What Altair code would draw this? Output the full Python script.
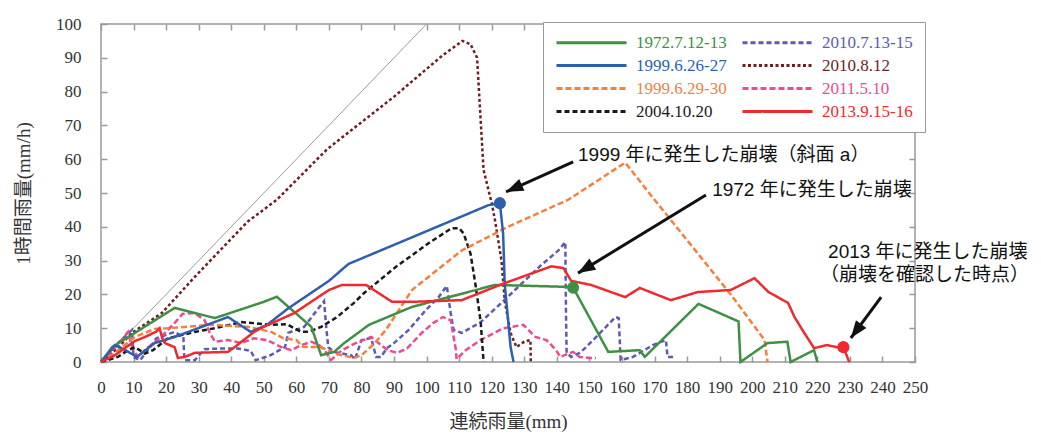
import math
import altair as alt
import pandas as pd

# ---------------- data ----------------
SERIES = ["1972.7.12-13", "1999.6.26-27", "1999.6.29-30", "2004.10.20",
          "2010.7.13-15", "2010.8.12", "2011.5.10", "2013.9.15-16"]
DRAW_ORDER = ["2010.8.12", "2010.7.13-15", "2011.5.10", "2004.10.20",
              "1999.6.29-30", "1972.7.12-13", "1999.6.26-27", "2013.9.15-16"]

G_X = [0, 3.4, 10.4, 22.6, 35, 50, 54, 64.6, 67.6, 71.6, 74.7, 82.3, 95.5, 121, 144.4, 145,
       155.8, 165.5, 167, 183.5, 195.8, 196.4, 204.7, 210.8, 211.8, 219, 220]
G_Y = [0, 4.4, 8.6, 16, 13, 17.8, 19.3, 10.4, 2, 3, 5.6, 11, 16.3, 22.8, 22.2, 22,
       3, 3.5, 1.5, 17.2, 12, 0, 5.6, 6, 0, 3.5, 0]

B_X = [0, 4.3, 7.5, 11, 16.5, 22.6, 39, 46, 51, 57.4, 65.7, 70, 76, 100, 119, 122.5, 123.5, 124, 125.8, 126.7]
B_Y = [0, 5, 3.5, 1.5, 5.6, 7.4, 13.3, 8.9, 11, 15.8, 21.2, 24, 29, 38.7, 46.4, 47, 38, 23, 4.4, 0]

O_X = [0, 4, 10.4, 16.5, 20.5, 34, 45, 52.3, 56, 60, 62, 67.6, 72, 77.7, 80, 84, 87.5, 95.5,
       110.8, 125, 143.5, 161, 170, 193.4, 203.8, 204.7]
O_Y = [0, 2.5, 7.4, 9.8, 10, 11, 10.4, 8.9, 7, 6.5, 4.5, 4.4, 2.5, 1.2, 2, 5.5, 9.5, 21.3,
       33, 40, 48, 59, 48, 20, 6.5, 0]

K_X = [0, 5.2, 8.3, 10.4, 13.5, 16, 20.5, 28.8, 35, 43, 47, 52, 57, 61.5, 64, 67.6, 72.5,
       77.7, 80.8, 90.5, 100.7, 107.7, 110, 111.4, 113.5, 115, 116.6, 117.5]
K_Y = [0, 1.5, 3.5, 4.4, 2.5, 3.5, 7, 8.9, 10, 11.8, 11.5, 11, 11.2, 8.9, 9, 10.4, 13.3,
       17.5, 20.4, 28.1, 35.2, 39.6, 39.6, 38, 32, 23, 12, 0]

P_X = [0, 5.2, 9.5, 10, 12, 14, 17, 22.6, 25.3, 25.6, 28.8, 31.8, 37, 42, 46, 47.5, 52, 56.5,
       57.5, 62.4, 66.4, 68.5, 69.2, 69.8, 71.5, 73, 76.8, 78, 80, 83, 84.5, 86, 87.8, 90,
       94.5, 99.8, 103.7, 106.2, 107.4, 108.3, 110.8, 116.5, 123, 129, 135, 140.5, 142.6,
       142.8, 143, 144.4, 147, 149, 153.3, 158, 159, 159.6, 163.4, 169.5, 173.5, 174, 176.6]
P_Y = [0, 5.6, 9.5, 1.5, 0.5, 3, 7, 8.9, 7.4, 0.5, 0.5, 3.8, 4, 4, 3.3, 0.5, 2, 4.4,
       8.6, 10.4, 15.4, 18, 10, 4.4, 3, 2.7, 2, 0.8, 6.5, 7.1, 1.5, 1.5, 4.1, 5.6,
       9.5, 15.4, 19.2, 22.5, 14.5, 9.5, 8.6, 11.7, 17.5, 23, 28.5, 33, 35.5,
       15, 2.7, 1.5, 2.7, 4.4, 8.6, 13.3, 13, 0.6, 1.5, 5, 6.5, 1.5, 1.5]

M_X = [0, 5, 9.5, 18.7, 28.8, 45, 54, 69.5, 90, 105, 111, 113.5, 115.5, 116.6, 117.5, 120,
       121, 123, 124, 125.8, 127.6, 130, 131.9, 132]
M_Y = [0, 4, 8.6, 14.5, 25.2, 41.5, 48, 63, 78.5, 90.8, 95, 94, 90, 71.6, 56.8, 47,
       42, 30, 18, 8.6, 4.4, 6, 6.5, 0]

N_X = [0, 5, 8.3, 9.5, 11.3, 14, 18, 22.6, 25, 28.8, 31.8, 33.4, 35, 39, 43, 47, 51, 55.4,
       58.4, 61.5, 64.6, 67, 69, 70.7, 74, 78, 83, 86, 88, 91, 94, 98.5, 102, 105, 107.4,
       109, 109.2, 112, 116.6, 123.6, 129.7, 133.4, 136.8, 139.8, 141, 145, 147, 150, 152]
N_Y = [0, 5, 8.9, 4.4, 1.5, 4, 7, 11.5, 14.2, 14.5, 12.4, 8.6, 6, 6.5, 5.6, 7, 6.5, 4.4,
       3.5, 5, 6, 5, 3, 0.6, 3.5, 5.5, 7.4, 5, 3.5, 2.7, 4, 8.6, 11.5, 13.3, 12.4,
       3.5, 0.8, 3.5, 6.5, 10, 11, 7.4, 6.5, 3.5, 1.5, 3, 1.5, 1.2, 1.2]

R_X = [0, 4.3, 7.3, 10.4, 13.5, 17, 18, 18.7, 19.6, 22.6, 23.6, 25.7, 28.8, 39, 40.5, 47, 50,
       59.4, 70, 74, 81.4, 89.4, 95.5, 110.8, 123.6, 138.3, 142, 144.4, 150.5, 161, 165.5,
       175, 183.3, 193.4, 200.7, 205, 211, 213, 215.4, 219, 223, 226, 228, 229.8]
R_Y = [0, 2, 4.1, 6.2, 7.4, 9, 10, 7.4, 5.6, 4.4, 1.2, 1.5, 2.7, 3, 4, 8.9, 10.4,
       14.5, 21.3, 22.8, 22.8, 17.8, 17.8, 18.3, 23.2, 28.3, 27.8, 24, 22.8, 19.2, 21.9,
       18.3, 20.7, 21.3, 24.8, 20.7, 17.5, 13.3, 9.5, 4.1, 5, 4.4, 4.4, 0]

SERIES_DATA = {
    "1972.7.12-13": (G_X, G_Y),
    "1999.6.26-27": (B_X, B_Y),
    "1999.6.29-30": (O_X, O_Y),
    "2004.10.20": (K_X, K_Y),
    "2010.7.13-15": (P_X, P_Y),
    "2010.8.12": (M_X, M_Y),
    "2011.5.10": (N_X, N_Y),
    "2013.9.15-16": (R_X, R_Y),
}

DIAG_X = [0, 100]
DIAG_Y = [0, 100]

DOT_SERIES = ["1999.6.26-27", "1972.7.12-13", "2013.9.15-16"]
DOT_X = [122.5, 145, 228]
DOT_Y = [47, 22, 4.4]

ANN_TEXT = ["1999 年に発生した崩壊（斜面 a）", "1972 年に発生した崩壊",
            "2013 年に発生した崩壊", "（崩壊を確認した時点）"]
ANN_X = [146.5, 187.7, 223.3, 220.8]
ANN_Y = [61.2, 50.9, 32.5, 25.7]

ARROW_X1 = [145.0, 185.8, 239.6]
ARROW_Y1 = [59.2, 49.4, 19.2]
ARROW_X2 = [124.4, 146.5, 230.3]
ARROW_Y2 = [50.3, 26.3, 7.1]

X_TICKS = list(range(0, 251, 10))
Y_TICKS = list(range(0, 101, 10))

# ---------------- styles ----------------
COLORS = {
    "1972.7.12-13": "#3f8f44",
    "1999.6.26-27": "#2e5fae",
    "1999.6.29-30": "#f57f3d",
    "2004.10.20": "#1a1a1a",
    "2010.7.13-15": "#5b5bb5",
    "2010.8.12": "#6e1f22",
    "2011.5.10": "#ee4a8f",
    "2013.9.15-16": "#ef2a2f",
}
DASHES = {
    "1972.7.12-13": [1, 0],
    "1999.6.26-27": [1, 0],
    "1999.6.29-30": [6, 3],
    "2004.10.20": [5, 3],
    "2010.7.13-15": [5, 3],
    "2010.8.12": [3, 2.5],
    "2011.5.10": [6, 3],
    "2013.9.15-16": [1, 0],
}
COLOR_RANGE = [COLORS[s] for s in SERIES]
DASH_RANGE = [DASHES[s] for s in SERIES]

W, H = 814, 338
XDOM, YDOM = [0, 250], [0, 100]
PX = W / (XDOM[1] - XDOM[0])
PY = H / (YDOM[1] - YDOM[0])

SERIF = "Liberation Serif"
SANS = "Liberation Sans, Noto Sans CJK JP"
TITLE_FONT = "Liberation Serif, Noto Sans CJK JP"
FRAME = "#999999"

# ---------------- tables ----------------
rows = []
for s in DRAW_ORDER:
    xs_, ys_ = SERIES_DATA[s]
    for i, (a, b) in enumerate(zip(xs_, ys_)):
        rows.append({"series": s, "x": a, "y": b, "idx": i})
df = pd.DataFrame(rows)

diag_df = pd.DataFrame({"x": DIAG_X, "y": DIAG_Y})
ann_df = pd.DataFrame({"label": ANN_TEXT, "x": ANN_X, "y": ANN_Y})
angles = []
for x1, y1, x2, y2 in zip(ARROW_X1, ARROW_Y1, ARROW_X2, ARROW_Y2):
    dxs = (x2 - x1) * PX
    dys = -(y2 - y1) * PY
    angles.append(math.degrees(math.atan2(dxs, -dys)) % 360)
arrow_df = pd.DataFrame({"x1": ARROW_X1, "y1": ARROW_Y1, "x2": ARROW_X2,
                         "y2": ARROW_Y2, "ang": angles})

xsc = alt.Scale(domain=XDOM, nice=False, zero=False)
ysc = alt.Scale(domain=YDOM, nice=False, zero=False)

tick_style = dict(offset=-6, tickSize=6, tickColor=FRAME, tickWidth=1.5,
                  domain=False, grid=False)

x_axis = alt.Axis(title="連続雨量(mm)", values=X_TICKS, labelFlush=False,
                  labelOverlap=False, labelPadding=17, labelFont=SERIF,
                  labelFontSize=17, labelColor="#333333", titleFont=TITLE_FONT,
                  titleFontSize=19, titleFontWeight="normal", titleColor="#333333",
                  titlePadding=17, **tick_style)
y_axis = alt.Axis(title="1時間雨量(mm/h)", values=Y_TICKS, labelFlush=False,
                  labelOverlap=False, labelPadding=20, labelFont=SERIF,
                  labelFontSize=17, labelColor="#333333", titleFont=TITLE_FONT,
                  titleFontSize=19, titleFontWeight="normal", titleColor="#333333",
                  titlePadding=22, **tick_style)
top_axis = alt.Axis(orient="top", title=None, labels=False, values=X_TICKS, **tick_style)
right_axis = alt.Axis(orient="right", title=None, labels=False, values=Y_TICKS, **tick_style)

# legend symbol: a 70px horizontal stroke laid out in a 14px slot
leg = alt.Legend(title=None, orient="none", legendX=442, legendY=-2, columns=2,
                 columnPadding=9, rowPadding=5, symbolType="M-1,0H9", symbolSize=196,
                 symbolStrokeWidth=3, labelFont=SERIF, labelFontSize=17,
                 labelColor={"expr": "scale('color', datum.value)"},
                 labelOffset=64, labelLimit=220, padding=12, strokeColor=FRAME,
                 fillColor="white")

diag = alt.Chart(diag_df).mark_line(color="#9a9a9a", strokeWidth=1).encode(
    x=alt.X("x:Q", scale=xsc, axis=top_axis),
    y=alt.Y("y:Q", scale=ysc, axis=right_axis),
)

lines = alt.Chart(df).mark_line(strokeWidth=2.5, strokeCap="butt").encode(
    x=alt.X("x:Q", scale=xsc, axis=x_axis),
    y=alt.Y("y:Q", scale=ysc, axis=y_axis),
    color=alt.Color("series:N", scale=alt.Scale(domain=SERIES, range=COLOR_RANGE), legend=leg),
    strokeDash=alt.StrokeDash("series:N", scale=alt.Scale(domain=SERIES, range=DASH_RANGE), legend=leg),
    order=alt.Order("idx:Q"),
)

dot_layers = []
for s, dx, dy in zip(DOT_SERIES, DOT_X, DOT_Y):
    d = pd.DataFrame({"x": [dx], "y": [dy]})
    dot_layers.append(
        alt.Chart(d).mark_circle(size=145, opacity=1, color=COLORS[s]).encode(
            x=alt.X("x:Q", scale=xsc, axis=None),
            y=alt.Y("y:Q", scale=ysc, axis=None),
        )
    )

arrows = alt.Chart(arrow_df).mark_rule(strokeWidth=3, color="#111111").encode(
    x=alt.X("x1:Q", scale=xsc, axis=None),
    y=alt.Y("y1:Q", scale=ysc, axis=None),
    x2="x2:Q",
    y2="y2:Q",
)

heads = alt.Chart(arrow_df).mark_point(
    shape="M0,0L-0.75,2L0.75,2Z", filled=True, size=300, color="#111111",
    opacity=1, strokeWidth=0,
).encode(
    x=alt.X("x2:Q", scale=xsc, axis=None),
    y=alt.Y("y2:Q", scale=ysc, axis=None),
    angle=alt.Angle("ang:Q", scale=None),
)

texts = alt.Chart(ann_df).mark_text(
    align="left", baseline="middle", font=SANS, fontSize=19, color="#111111"
).encode(
    x=alt.X("x:Q", scale=xsc, axis=None),
    y=alt.Y("y:Q", scale=ysc, axis=None),
    text="label:N",
)

chart = alt.layer(diag, lines, *dot_layers, arrows, heads, texts).resolve_axis(
    x="independent", y="independent"
).properties(
    width=W, height=H,
    autosize=alt.AutoSizeParams(type="none"),
    padding={"left": 93, "top": 16, "right": 118, "bottom": 70},
    background="white",
).configure_view(stroke=FRAME, strokeWidth=1.5)

chart.save("out.html", embed_options={"renderer": "svg", "actions": False})
